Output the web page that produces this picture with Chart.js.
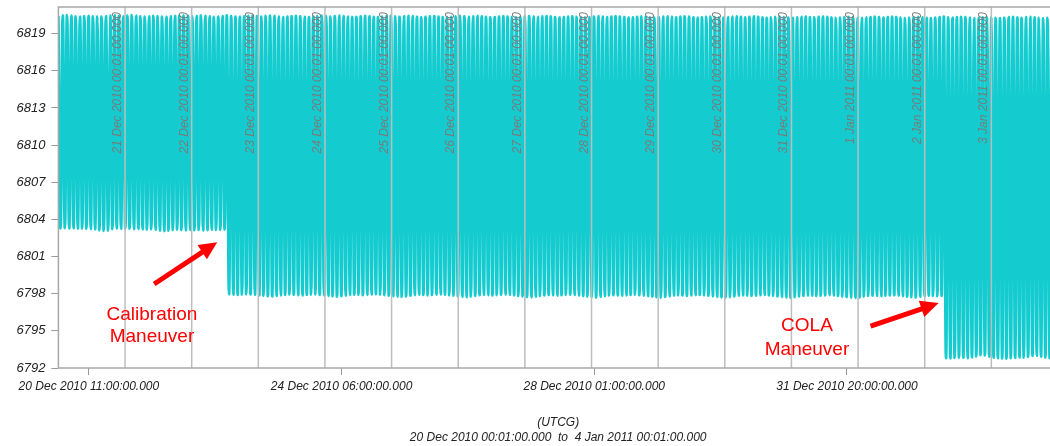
<!DOCTYPE html>
<html>
<head>
<meta charset="utf-8">
<script src="https://cdn.jsdelivr.net/npm/chart.js@4.4.1/dist/chart.umd.min.js"></script>
<style>
  html, body { margin: 0; padding: 0; background: #ffffff; overflow: hidden; }
  #wrap { width: 1062px; height: 446px; }
</style>
</head>
<body>
<div id="wrap"><canvas id="radius" width="1062" height="446"></canvas></div>
<script>
// Orbit radius magnitude (km), 20 Dec 2010 00:01 UTCG to 4 Jan 2011 00:01 UTCG.
// Time axis is in hours since the start epoch.
const ORBIT_PERIOD_H = 1.5556;

// Apoapsis radius of each revolution (km)
const apoapsisKm = [
  6820.42, 6820.48, 6820.50, 6820.46, 6820.40, 6820.38, 6820.41, 6820.44, 6820.40, 6820.36, 6820.38, 6820.42, 6820.45, 6820.47, 6820.44, 6820.40,
  6820.46, 6820.49, 6820.45, 6820.40, 6820.37, 6820.40, 6820.44, 6820.42, 6820.38, 6820.36, 6820.39, 6820.43, 6820.46, 6820.48, 6820.43, 6820.39,
  6820.44, 6820.47, 6820.44, 6820.39, 6820.36, 6820.38, 6820.42, 6820.45, 6820.41, 6820.37, 6820.35, 6820.39, 6820.43, 6820.46, 6820.42, 6820.38,
  6820.43, 6820.46, 6820.43, 6820.38, 6820.34, 6820.37, 6820.41, 6820.44, 6820.40, 6820.36, 6820.34, 6820.38, 6820.42, 6820.45, 6820.41, 6820.37,
  6820.42, 6820.45, 6820.42, 6820.37, 6820.33, 6820.36, 6820.40, 6820.43, 6820.39, 6820.35, 6820.33, 6820.37, 6820.41, 6820.44, 6820.40, 6820.36,
  6820.41, 6820.44, 6820.41, 6820.36, 6820.32, 6820.35, 6820.39, 6820.42, 6820.38, 6820.34, 6820.32, 6820.36, 6820.40, 6820.43, 6820.39, 6820.35,
  6820.40, 6820.43, 6820.40, 6820.35, 6820.31, 6820.34, 6820.38, 6820.41, 6820.37, 6820.33, 6820.31, 6820.35, 6820.39, 6820.42, 6820.38, 6820.34,
  6820.39, 6820.42, 6820.39, 6820.34, 6820.30, 6820.33, 6820.37, 6820.40, 6820.36, 6820.32, 6820.30, 6820.34, 6820.38, 6820.41, 6820.37, 6820.33,
  6820.38, 6820.41, 6820.38, 6820.33, 6820.29, 6820.32, 6820.36, 6820.39, 6820.35, 6820.31, 6820.29, 6820.33, 6820.37, 6820.40, 6820.36, 6820.32,
  6820.37, 6820.40, 6820.37, 6820.32, 6820.28, 6820.31, 6820.35, 6820.38, 6820.34, 6820.30, 6820.28, 6820.32, 6820.36, 6820.39, 6820.35, 6820.31,
  6820.36, 6820.39, 6820.36, 6820.31, 6820.27, 6820.30, 6820.34, 6820.37, 6820.33, 6820.29, 6820.27, 6820.31, 6820.35, 6820.38, 6820.34, 6820.30,
  6820.35, 6820.38, 6820.35, 6820.30, 6820.26, 6820.29, 6820.33, 6820.36, 6820.32, 6820.28, 6820.26, 6820.30, 6820.34, 6820.37, 6820.33, 6820.29,
  6820.34, 6820.37, 6820.34, 6820.29, 6820.25, 6820.28, 6820.32, 6820.35, 6820.31, 6820.27, 6820.25, 6820.29, 6820.33, 6820.36, 6820.32, 6820.28,
  6820.33, 6820.36, 6820.33, 6820.28, 6820.24, 6820.27, 6820.31, 6820.34, 6820.30, 6820.26, 6820.24, 6820.28, 6820.32, 6820.35, 6820.31, 6820.27,
  6820.32, 6820.35, 6820.32, 6820.27, 6820.23, 6820.26, 6820.30, 6820.33
];

// Periapsis radius of each revolution before the calibration maneuver (km)
const periapsisBeforeCalKm = [
  6803.28, 6803.30, 6803.27, 6803.29, 6803.26, 6803.28, 6803.25, 6803.24, 6803.20, 6803.12, 6803.08, 6803.10, 6803.22, 6803.27, 6803.26, 6803.28,
  6803.25, 6803.22, 6803.24, 6803.20, 6803.18, 6803.21, 6803.17, 6803.10, 6803.06, 6803.09, 6803.15, 6803.18, 6803.14, 6803.12, 6803.16,
  6803.13, 6803.15, 6803.11, 6803.14, 6803.17, 6803.15, 6803.16, 6803.18
];

// Periapsis radius between the calibration maneuver and the COLA maneuver (km)
const periapsisAfterCalKm = [
  6797.95, 6797.92, 6797.90, 6797.93, 6797.96, 6797.94, 6797.91, 6797.88, 6797.84, 6797.80, 6797.78, 6797.82, 6797.87, 6797.91, 6797.94, 6797.92,
  6797.89, 6797.86, 6797.90, 6797.93, 6797.95, 6797.91, 6797.87, 6797.83, 6797.79, 6797.76, 6797.80, 6797.85, 6797.90, 6797.93, 6797.91, 6797.88,
  6797.91, 6797.94, 6797.96, 6797.93, 6797.89, 6797.85, 6797.81, 6797.77, 6797.74, 6797.78, 6797.84, 6797.89, 6797.92, 6797.90, 6797.87, 6797.90,
  6797.93, 6797.95, 6797.92, 6797.88, 6797.84, 6797.79, 6797.75, 6797.72, 6797.77, 6797.83, 6797.88, 6797.91, 6797.89, 6797.86, 6797.89, 6797.92,
  6797.94, 6797.91, 6797.87, 6797.82, 6797.78, 6797.74, 6797.71, 6797.76, 6797.82, 6797.87, 6797.90, 6797.88, 6797.85, 6797.88, 6797.91, 6797.93,
  6797.90, 6797.86, 6797.81, 6797.77, 6797.73, 6797.70, 6797.75, 6797.81, 6797.86, 6797.89, 6797.87, 6797.84, 6797.87, 6797.90, 6797.92, 6797.89,
  6797.85, 6797.80, 6797.76, 6797.72, 6797.69, 6797.74, 6797.80, 6797.85, 6797.88, 6797.86, 6797.83, 6797.86, 6797.89, 6797.91, 6797.88, 6797.84,
  6797.79, 6797.75, 6797.71, 6797.68, 6797.73, 6797.79, 6797.84, 6797.87, 6797.85, 6797.82, 6797.85, 6797.88, 6797.90, 6797.87, 6797.83, 6797.78,
  6797.74, 6797.70, 6797.67, 6797.72, 6797.78, 6797.83, 6797.86, 6797.84, 6797.81, 6797.84, 6797.87, 6797.89, 6797.86, 6797.82, 6797.77, 6797.73,
  6797.69, 6797.66, 6797.71, 6797.77, 6797.82, 6797.85, 6797.83, 6797.80, 6797.83, 6797.86, 6797.88, 6797.85, 6797.81, 6797.76, 6797.72, 6797.70,
  6797.75, 6797.80, 6797.84, 6797.82, 6797.80, 6797.83
];

// Periapsis radius after the COLA maneuver (km)
const periapsisAfterColaKm = [
  6792.80, 6792.78, 6792.82, 6792.85, 6792.83, 6792.80, 6792.86, 6792.95, 6793.05, 6793.02, 6792.92, 6792.84, 6792.80,
  6792.78, 6792.76, 6792.80, 6792.83, 6792.86, 6792.84, 6792.90, 6792.98, 6793.00, 6792.92, 6792.85, 6792.80, 6792.82
];

// Axis ticks
const yTickValues = [6792, 6795, 6798, 6801, 6804, 6807, 6810, 6813, 6816, 6819];
const xTickHours = [10.9833, 101.9833, 192.9833, 283.9833];
const xTickLabels = [
  '20 Dec 2010 11:00:00.000', '24 Dec 2010 06:00:00.000',
  '28 Dec 2010 01:00:00.000', '31 Dec 2010 20:00:00.000'
];
const dayHours = [24, 48, 72, 96, 120, 144, 168, 192, 216, 240, 264, 288, 312, 336];
const dayLabels = [
  '21 Dec 2010 00:01:00.000', '22 Dec 2010 00:01:00.000', '23 Dec 2010 00:01:00.000',
  '24 Dec 2010 00:01:00.000', '25 Dec 2010 00:01:00.000', '26 Dec 2010 00:01:00.000',
  '27 Dec 2010 00:01:00.000', '28 Dec 2010 00:01:00.000', '29 Dec 2010 00:01:00.000',
  '30 Dec 2010 00:01:00.000', '31 Dec 2010 00:01:00.000', '1 Jan 2011 00:01:00.000',
  '2 Jan 2011 00:01:00.000', '3 Jan 2011 00:01:00.000'
];
const axisTitle = ['(UTCG)', '20 Dec 2010 00:01:00.000  to  4 Jan 2011 00:01:00.000'];

// Build the radius trace: apoapsis and periapsis alternate every half revolution.
const periapsisKm = periapsisBeforeCalKm.concat(periapsisAfterCalKm, periapsisAfterColaKm);
const radiusPoints = [];
apoapsisKm.forEach((r, i) => {
  radiusPoints.push({ x: i * ORBIT_PERIOD_H, y: r });
  if (i < periapsisKm.length) {
    radiusPoints.push({ x: (i + 0.5) * ORBIT_PERIOD_H, y: periapsisKm[i] });
  }
});

const FONT = '"Liberation Sans", Arial, sans-serif';

// Maneuver call-outs, anchored in hours / km.
const callouts = [
  { lines: ['Calibration', 'Maneuver'], at: [33.7, 6796.28], lineStep: 22,
    from: [34.5, 6798.78], to: [57.2, 6802.16] },
  { lines: ['COLA', 'Maneuver'], at: [269.6, 6795.4], lineStep: 24,
    from: [292.5, 6795.39], to: [317.0, 6797.24] }
];

function drawArrow(ctx, x0, y0, x1, y1) {
  const ang = Math.atan2(y1 - y0, x1 - x0);
  const head = 18, hw = 8.5;
  const bx = x1 - head * Math.cos(ang), by = y1 - head * Math.sin(ang);
  ctx.lineWidth = 5;
  ctx.lineCap = 'butt';
  ctx.beginPath();
  ctx.moveTo(x0, y0);
  ctx.lineTo(bx + Math.cos(ang), by + Math.sin(ang));
  ctx.stroke();
  ctx.beginPath();
  ctx.moveTo(x1, y1);
  ctx.lineTo(bx + hw * Math.sin(ang), by - hw * Math.cos(ang));
  ctx.lineTo(bx - hw * Math.sin(ang), by + hw * Math.cos(ang));
  ctx.closePath();
  ctx.fill();
}

const overlay = {
  id: 'overlay',
  afterDatasetsDraw(chart) {
    const { ctx, chartArea: a, scales: { x, y } } = chart;
    ctx.save();

    // day separators
    ctx.strokeStyle = '#bdbdbd';
    ctx.lineWidth = 1.5;
    dayHours.forEach(h => {
      const px = x.getPixelForValue(h);
      ctx.beginPath();
      ctx.moveTo(px, a.top);
      ctx.lineTo(px, a.bottom);
      ctx.stroke();
    });

    // day labels, reading upwards beside each separator
    ctx.fillStyle = '#7a7a7a';
    ctx.font = 'italic 12px ' + FONT;
    ctx.textAlign = 'right';
    ctx.textBaseline = 'alphabetic';
    dayHours.forEach((h, i) => {
      const px = x.getPixelForValue(h);
      ctx.save();
      ctx.translate(px - 4, a.top + 5);
      ctx.rotate(-Math.PI / 2);
      ctx.fillText(dayLabels[i], 0, 0);
      ctx.restore();
    });

    // plot frame
    ctx.strokeStyle = '#a8a8a8';
    ctx.lineWidth = 1.5;
    ctx.strokeRect(a.left, a.top, a.right - a.left, a.bottom - a.top);

    // maneuver call-outs
    ctx.fillStyle = '#ff0000';
    ctx.strokeStyle = '#ff0000';
    callouts.forEach(c => {
      drawArrow(ctx,
        x.getPixelForValue(c.from[0]), y.getPixelForValue(c.from[1]),
        x.getPixelForValue(c.to[0]), y.getPixelForValue(c.to[1]));
      ctx.font = '19px ' + FONT;
      ctx.textAlign = 'center';
      ctx.textBaseline = 'middle';
      const cx = x.getPixelForValue(c.at[0]);
      const cy = y.getPixelForValue(c.at[1]);
      c.lines.forEach((t, k) => ctx.fillText(t, cx, cy + k * c.lineStep));
    });

    ctx.restore();
  }
};

new Chart(document.getElementById('radius'), {
  type: 'line',
  data: {
    datasets: [{
      data: radiusPoints,
      borderColor: '#14cccf',
      borderWidth: 2.8,
      pointRadius: 0,
      tension: 0.5,
      fill: false
    }]
  },
  options: {
    responsive: false,
    animation: false,
    devicePixelRatio: 1,
    layout: { padding: { top: 7, right: 4, left: 0, bottom: 0 } },
    plugins: { legend: { display: false }, tooltip: { enabled: false } },
    scales: {
      x: {
        type: 'linear',
        min: 0,
        max: 360,
        afterBuildTicks(scale) { scale.ticks = xTickHours.map(v => ({ value: v })); },
        afterFit(scale) {
          scale.height = 78;
          scale.paddingLeft = 0; scale.paddingRight = 0;
        },
        ticks: {
          autoSkip: false,
          maxRotation: 0,
          padding: 4,
          color: '#222222',
          font: { family: FONT, size: 12, style: 'italic' },
          callback: (v, i) => xTickLabels[i]
        },
        grid: { drawOnChartArea: false, drawTicks: true, tickLength: 7, color: '#999999', lineWidth: 1 },
        border: { display: false },
        title: {
          display: true,
          text: axisTitle,
          color: '#222222',
          font: { family: FONT, size: 12, style: 'italic', lineHeight: 1.25 },
          padding: { top: 0, bottom: 1 }
        }
      },
      y: {
        type: 'linear',
        min: 6792,
        max: 6821.15,
        afterBuildTicks(scale) { scale.ticks = yTickValues.map(v => ({ value: v })); },
        afterFit(scale) {
          scale.width = 58.4;
          scale.paddingTop = 0; scale.paddingBottom = 0;
        },
        ticks: {
          padding: 6,
          color: '#222222',
          font: { family: FONT, size: 13, style: 'italic' },
          callback: v => String(v)
        },
        grid: { drawOnChartArea: false, drawTicks: true, tickLength: 7, color: '#999999', lineWidth: 1 },
        border: { display: false }
      }
    }
  },
  plugins: [overlay]
});
</script>
</body>
</html>
